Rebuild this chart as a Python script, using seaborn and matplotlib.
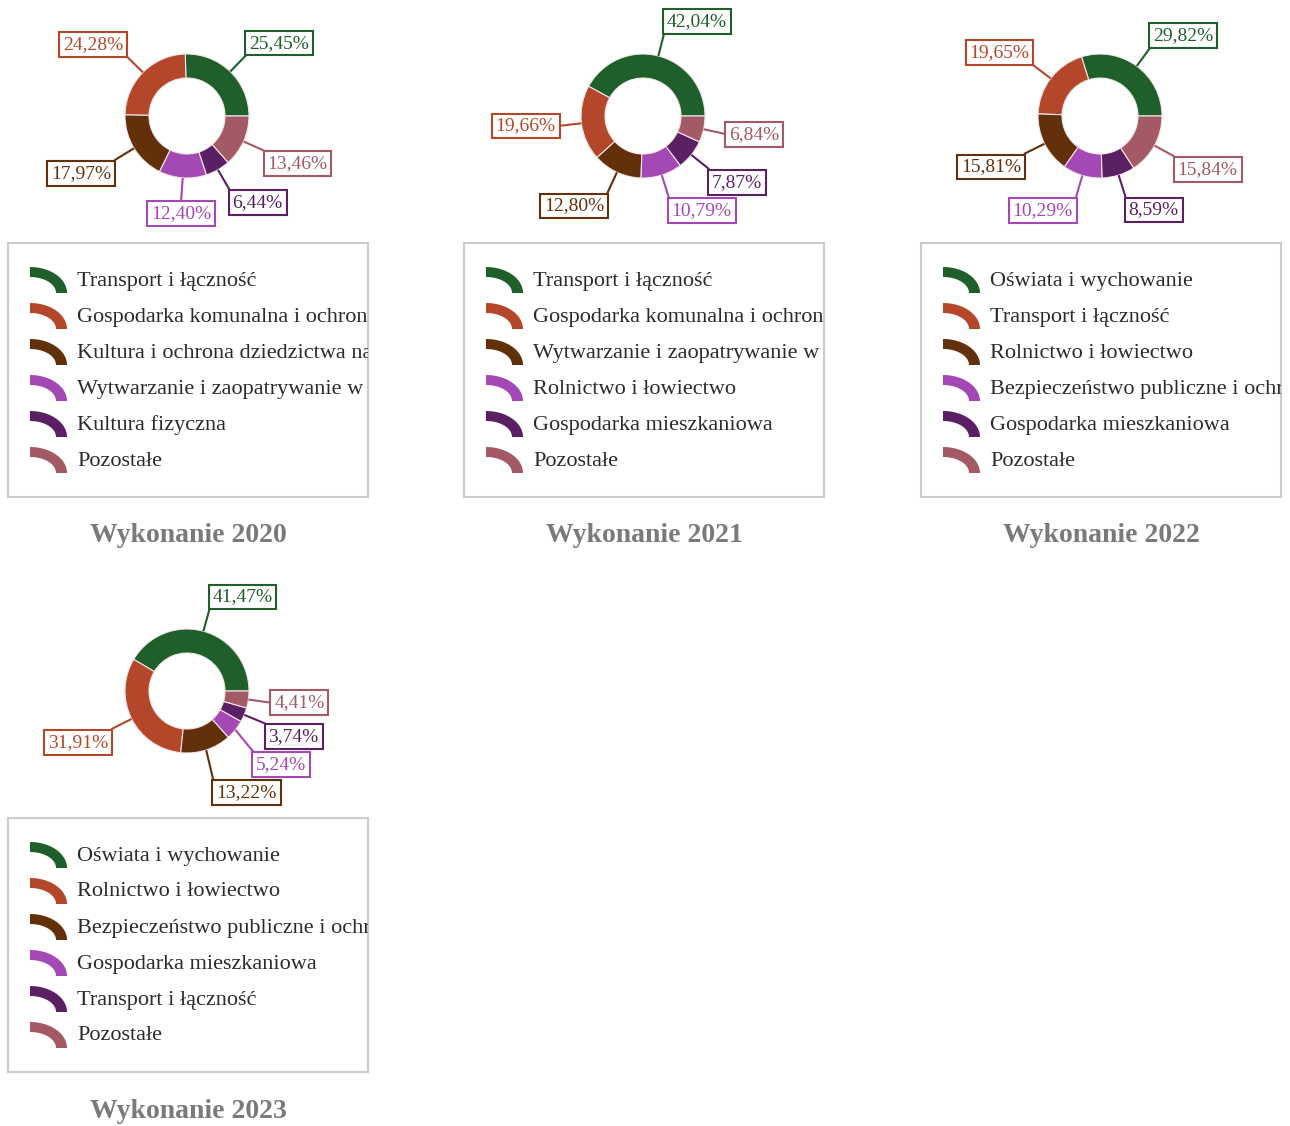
import numpy as np
import matplotlib
matplotlib.use("Agg")
import matplotlib.pyplot as plt
import seaborn as sns
from matplotlib.patches import Polygon

# ---- dane ----
years = ["2020", "2021", "2022", "2023"]

cat_2020 = ["Transport i łączność", "Gospodarka komunalna i ochrona środowiska",
            "Kultura i ochrona dziedzictwa narodowego",
            "Wytwarzanie i zaopatrywanie w energię elektryczną, gaz i wodę",
            "Kultura fizyczna", "Pozostałe"]
val_2020 = [25.45, 24.28, 17.97, 12.40, 6.44, 13.46]

cat_2021 = ["Transport i łączność", "Gospodarka komunalna i ochrona środowiska",
            "Wytwarzanie i zaopatrywanie w energię elektryczną, gaz i wodę",
            "Rolnictwo i łowiectwo", "Gospodarka mieszkaniowa", "Pozostałe"]
val_2021 = [42.04, 19.66, 12.80, 10.79, 7.87, 6.84]

cat_2022 = ["Oświata i wychowanie", "Transport i łączność", "Rolnictwo i łowiectwo",
            "Bezpieczeństwo publiczne i ochrona przeciwpożarowa",
            "Gospodarka mieszkaniowa", "Pozostałe"]
val_2022 = [29.82, 19.65, 15.81, 10.29, 8.59, 15.84]

cat_2023 = ["Oświata i wychowanie", "Rolnictwo i łowiectwo",
            "Bezpieczeństwo publiczne i ochrona przeciwpożarowa",
            "Gospodarka mieszkaniowa", "Transport i łączność", "Pozostałe"]
val_2023 = [41.47, 31.91, 13.22, 5.24, 3.74, 4.41]

categories = [cat_2020, cat_2021, cat_2022, cat_2023]
values = [val_2020, val_2021, val_2022, val_2023]

colors = ["#1f5f2b", "#b4472a", "#62300b", "#a348b4", "#5b1f64", "#a35a65"]

# ---- wyglad ----
sns.set_theme(style="white")
plt.rcParams["font.family"] = ["Liberation Serif", "DejaVu Serif"]

W, H = 1290, 1126
fig = plt.figure(figsize=(W / 100, H / 100), dpi=100)
fig.patch.set_facecolor("white")
renderer = fig.canvas.get_renderer()

R = 62          # promien zewnetrzny (px)
RING = 24       # grubosc pierscienia (px)


def px_axes(x0, y0, x1, y1):
    return fig.add_axes([x0 / W, 1 - y1 / H, (x1 - x0) / W, (y1 - y0) / H])


def fmt(v):
    return f"{v:.2f}".replace(".", ",") + "%"


def draw_donut(ox, oy, vals):
    cx, cy = 187 + ox, 116 + oy
    x0, x1, y0, y1 = ox, ox + 430, oy, oy + 238
    ax = px_axes(x0, y0, x1, y1)
    ax.pie(vals, colors=colors, radius=R, startangle=0, counterclock=True,
           wedgeprops=dict(width=RING, edgecolor="#f2e6e6", linewidth=0.8))
    ax.set_aspect("auto")
    ax.set_xlim(x0 - cx, x1 - cx)
    ax.set_ylim(cy - y1, cy - y0)
    ax.axis("off")

    total = sum(vals)
    theta = 0.0
    labs = []
    for v, col in zip(vals, colors):
        mid = np.deg2rad(theta + v / total * 180)
        theta += v / total * 360
        c, s = np.cos(mid), np.sin(mid)
        ex, ey = 1.37 * R * c, 1.37 * R * s
        if s > 0.35:
            yc = ey + 12
        elif s < -0.35:
            yc = ey - 13
        else:
            yc = ey
        labs.append(dict(v=v, col=col, c=c, s=s, ex=ex, ey=ey, yc=yc))

    # proste rozsuwanie etykiet po kazdej stronie
    for side in (1, -1):
        items = sorted([l for l in labs if np.sign(l["c"]) == side],
                       key=lambda l: -l["yc"])
        for a, b in zip(items, items[1:]):
            if a["yc"] - b["yc"] < 28:
                d = a["yc"] - 28 - b["yc"]
                b["yc"] += d
                b["ey"] += d

    for l in labs:
        c, s = l["c"], l["s"]
        ax.plot([R * c, l["ex"]], [R * s, l["ey"]], color=l["col"], lw=1.5,
                zorder=3, solid_capstyle="butt")
        if c > 0.2:
            ha, tx = "left", l["ex"] + 3
        elif c < -0.2:
            ha, tx = "right", l["ex"] - 3
        else:
            ha, tx = "center", l["ex"]
        ax.text(tx, l["yc"], fmt(l["v"]), ha=ha, va="center", fontsize=14,
                color=l["col"], zorder=4,
                bbox=dict(boxstyle="square,pad=0.2", facecolor="white",
                          edgecolor=l["col"], linewidth=1.5))


def draw_legend(ox, oy, cats):
    bx0, bx1 = ox + 8, ox + 368
    ax = px_axes(bx0, oy + 243, bx1, oy + 497)
    ax.set_xlim(0, 360)
    ax.set_ylim(254, 0)
    ax.set_xticks([])
    ax.set_yticks([])
    ax.set_facecolor("white")
    for sp in ax.spines.values():
        sp.set_color("#cccccc")
        sp.set_linewidth(1.5)
    t = np.linspace(0, np.pi / 2, 40)
    for i, (cat, col) in enumerate(zip(cats, colors)):
        yc = 37 + i * 36
        outer = np.column_stack([22 + 37 * np.cos(t), yc + 13 - 26 * np.sin(t)])
        inner = np.column_stack([22 + 26 * np.cos(t), yc + 13 - 16 * np.sin(t)])[::-1]
        ax.add_patch(Polygon(np.vstack([outer, inner]), closed=True,
                             facecolor=col, edgecolor="none"))
        txt = ax.text(69, yc + 1, cat, ha="left", va="center", fontsize=16,
                      color="#2b2b2b", clip_on=True)
        # napis obciety na krawedzi ramki, jak w oryginale
        limit = (bx1 - 3) * fig.dpi / 100
        n = len(cat)
        while n > 1 and txt.get_window_extent(renderer).x1 > limit:
            n -= 1
            txt.set_text(cat[:n])
        if n < len(cat):
            txt.set_text(cat[:n + 1])


offsets = [(0, 0), (456, 0), (913, 0), (0, 575)]
for year, cats, vals, (ox, oy) in zip(years, categories, values, offsets):
    draw_donut(ox, oy, vals)
    draw_legend(ox, oy, cats)
    fig.text((188 + ox) / W, 1 - (536 + oy) / H, f"Wykonanie {year}",
             ha="center", va="center", fontsize=20, fontweight="bold",
             color="#7a7a7a")

fig.savefig("out.png", dpi=100, facecolor="white")
